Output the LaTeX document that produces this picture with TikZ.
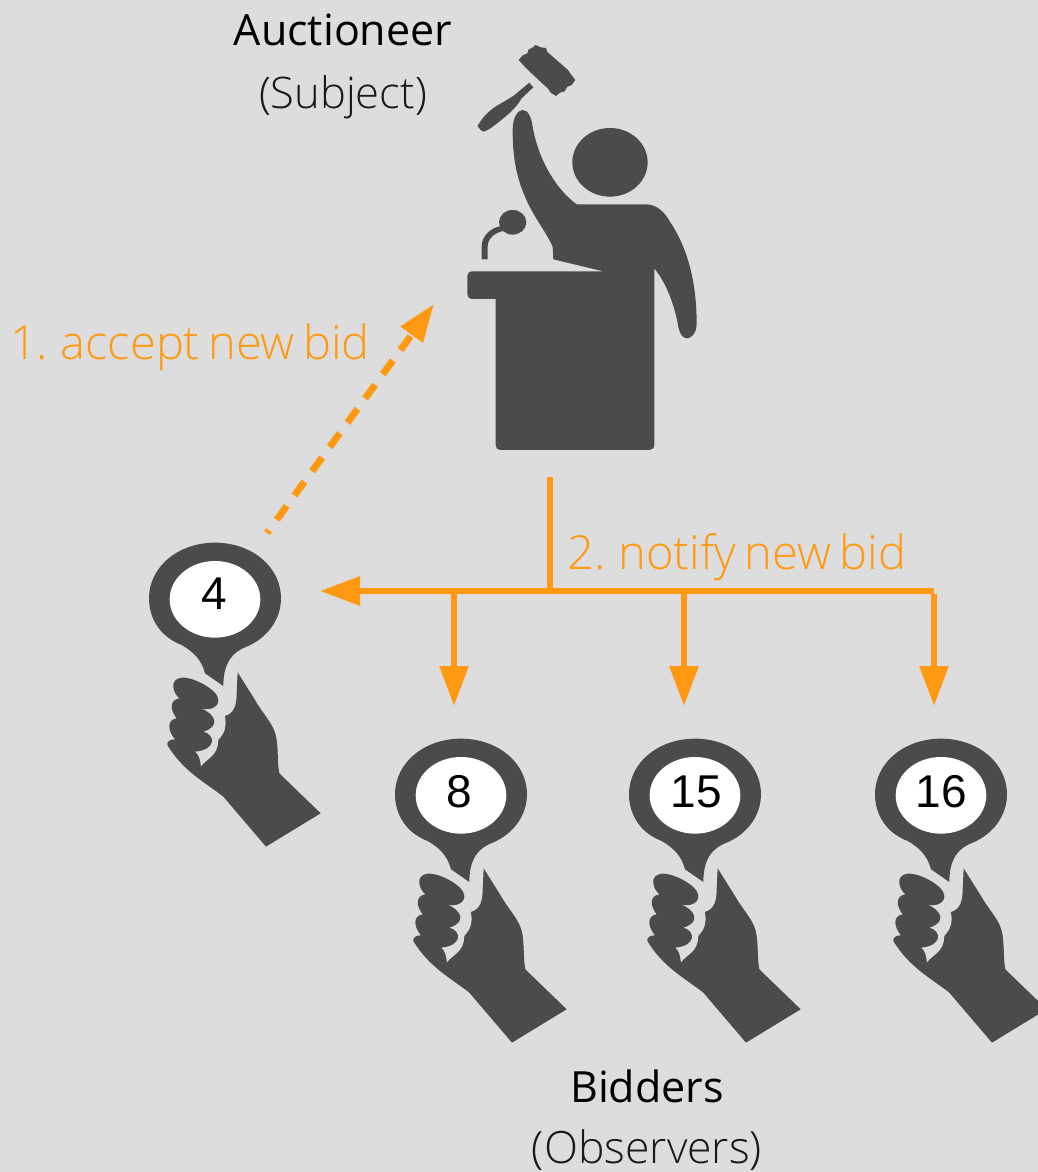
\documentclass[tikz,border=0pt]{standalone}
\usepackage{fontspec}
\setmainfont{Open Sans Light}
\newfontfamily\orgfont[WordSpace=0.7]{Open Sans Light}
\newfontfamily\numfont{Liberation Sans}
\newfontfamily\boldish{Open Sans}
\usetikzlibrary{arrows.meta}
\definecolor{bgc}{HTML}{DDDDDD}
\definecolor{ink}{HTML}{4B4B4B}
\definecolor{orng}{HTML}{FF9912}
\tikzset{
  flow/.style={draw=orng,line width=6pt},
  flowtip/.style={flow,-{Triangle[length=40pt,width=28pt,fill=orng]}},
  titlelab/.style={font=\boldish\fontsize{43}{43}\selectfont,text=black,inner sep=0pt},
  sublab/.style={font=\fontsize{44.5}{44.5}\selectfont,text=black!90,inner sep=0pt},
  orglab/.style={font=\orgfont\fontsize{47}{47}\selectfont,text=orng,inner sep=0pt},
  numlab/.style={font=\numfont\fontsize{46}{46}\selectfont,text=black,inner sep=0pt},
  paddle/.pic={
    \begin{scope}[x=0.3333pt,y=-0.3333pt]
    \fill[ink] (250,468) -- (195,430) .. controls (185,390) and (160,365) .. (125,345)
      .. controls (60,320) and (27,265) .. (27,205)
      .. controls (27,110) and (115,38) .. (225,38)
      .. controls (335,38) and (423,110) .. (423,205)
      .. controls (423,270) and (380,325) .. (320,350)
      .. controls (280,365) and (250,395) .. (250,468) -- cycle;
    \fill[white] (225,208) ellipse [x radius=136,y radius=115];
    \fill[ink] (293,427) -- (345,510) .. controls (365,545) and (385,565) .. (400,595)
      .. controls (418,630) and (410,690) .. (418,730) -- (542,850) -- (378,950) -- (250,800)
      .. controls (200,760) and (130,725) .. (82,645)
      .. controls (80,635) and (90,628) .. (105,628)
      .. controls (85,605) and (78,570) .. (110,565)
      .. controls (90,540) and (88,510) .. (118,505)
      .. controls (100,490) and (85,448) .. (125,443)
      .. controls (160,440) and (235,480) .. (235,510)
      .. controls (235,535) and (205,542) .. (183,535)
      .. controls (230,555) and (240,590) .. (190,605)
      .. controls (228,615) and (228,660) .. (165,665)
      .. controls (178,675) and (180,690) .. (183,710)
      .. controls (200,685) and (235,680) .. (235,630)
      .. controls (255,610) and (260,590) .. (255,558)
      .. controls (285,550) and (290,520) .. (290,490) -- cycle;
    \end{scope}
  }
}
\begin{document}
\begin{tikzpicture}[x=1pt,y=-1pt]
\useasboundingbox (0,0) rectangle (1038,1172);
\fill[bgc] (0,0) rectangle (1038,1172);
\begin{scope}
\clip (0,0) rectangle (1038,1172);
% auctioneer
\begin{scope}[shift={(450,30)},x=0.3333pt,y=-0.3333pt]
\fill[ink] (65,724) -- (460,724) -- (310,688) -- (308,650)
  .. controls (285,600) and (250,560) .. (225,500)
  .. controls (195,430) and (188,370) .. (188,300)
  .. controls (188,260) and (205,240) .. (218,240)
  .. controls (235,240) and (245,265) .. (248,290)
  .. controls (265,390) and (320,480) .. (380,523) -- (590,523)
  .. controls (625,525) and (645,550) .. (660,575)
  .. controls (710,650) and (740,750) .. (740,880)
  .. controls (740,915) and (720,925) .. (710,925)
  .. controls (695,925) and (688,905) .. (685,890)
  .. controls (675,830) and (650,760) .. (613,715) -- (613,1245)
  .. controls (613,1255) and (605,1260) .. (598,1260) -- (150,1260)
  .. controls (142,1260) and (137,1253) .. (137,1245) -- (137,807) -- (65,807)
  .. controls (58,807) and (52,800) .. (52,793) -- (52,738)
  .. controls (52,730) and (58,724) .. (65,724) -- cycle;
\fill[ink] (480,397) ellipse [x radius=113,y radius=103];
\fill[ink] (188,577) ellipse [x radius=41,y radius=37];
\fill[ink] (95,688) -- (95,650) .. controls (95,615) and (125,592) .. (155,588) -- (160,603)
  .. controls (135,608) and (113,625) .. (113,650) -- (113,688) -- cycle;
\fill[ink] (257,45) -- (272,52) -- (288,54) -- (292,66) -- (354,120) -- (362,132) -- (376,150)
  -- (364,166) -- (352,170) -- (344,184) -- (330,188) -- (318,198) -- (302,188) -- (294,176) -- (236,122) -- (224,110) -- (206,90)
  -- (218,76) -- (232,70) -- (236,58) -- (246,54) -- cycle;
\fill[ink] (238,158) -- (250,172) -- (215,205) .. controls (195,240) and (160,265) .. (135,285)
  .. controls (122,295) and (110,303) .. (100,305) -- (92,300) -- (83,288)
  .. controls (100,255) and (130,232) .. (150,222) -- (190,198) -- cycle;
\end{scope}
% paddles
\pic at (140,530) {paddle};
\pic at (386,726) {paddle};
\pic at (620,726) {paddle};
\pic at (866,726) {paddle};
\end{scope}
\node[numlab] (b4) at (214,594) {4};
\node[numlab] (b8) at (459,792) {8};
\node[numlab] (b15) at (696,792) {15};
\node[numlab] (b16) at (941,792) {16};
\node[titlelab] (auct) at (343,30) {Auctioneer};
\node[sublab,font=\fontsize{43.5}{43.5}\selectfont] (subj) at (343,97) {(Subject)};
\node[titlelab] (bidd) at (647,1086) {Bidders};
\node[sublab] (obs) at (647,1150) {(Observers)};
\node[orglab] (accept) at (190,347) {1. accept new bid};
\node[orglab] (notify) at (737,557) {2. notify new bid};
% connectors
\coordinate (acctip) at (434,304);
\coordinate (accfrom) at (267,533);
\coordinate (down) at (550,477);
\coordinate (joint) at (550,591);
\coordinate (bar) at (934,591);
\coordinate (to4) at (320,591);
\coordinate (j8) at (454,591);
\coordinate (j15) at (684,591);
\coordinate (to8) at (454,706);
\coordinate (to15) at (684,706);
\coordinate (to16) at (934,706);
\draw[orng,line width=7pt,dash pattern=on 17pt off 13pt,dash phase=13.5pt,-{Triangle[length=38pt,width=26pt,fill=orng]}] (accfrom) -- (acctip);
\draw[flow] (down) -- (joint);
\draw[flowtip] (bar) -- (to4);
\draw[flowtip] (j8) -- (to8);
\draw[flowtip] (j15) -- (to15);
\draw[flowtip] ([yshift=-3pt]bar) -- (to16);
\end{tikzpicture}
\end{document}
